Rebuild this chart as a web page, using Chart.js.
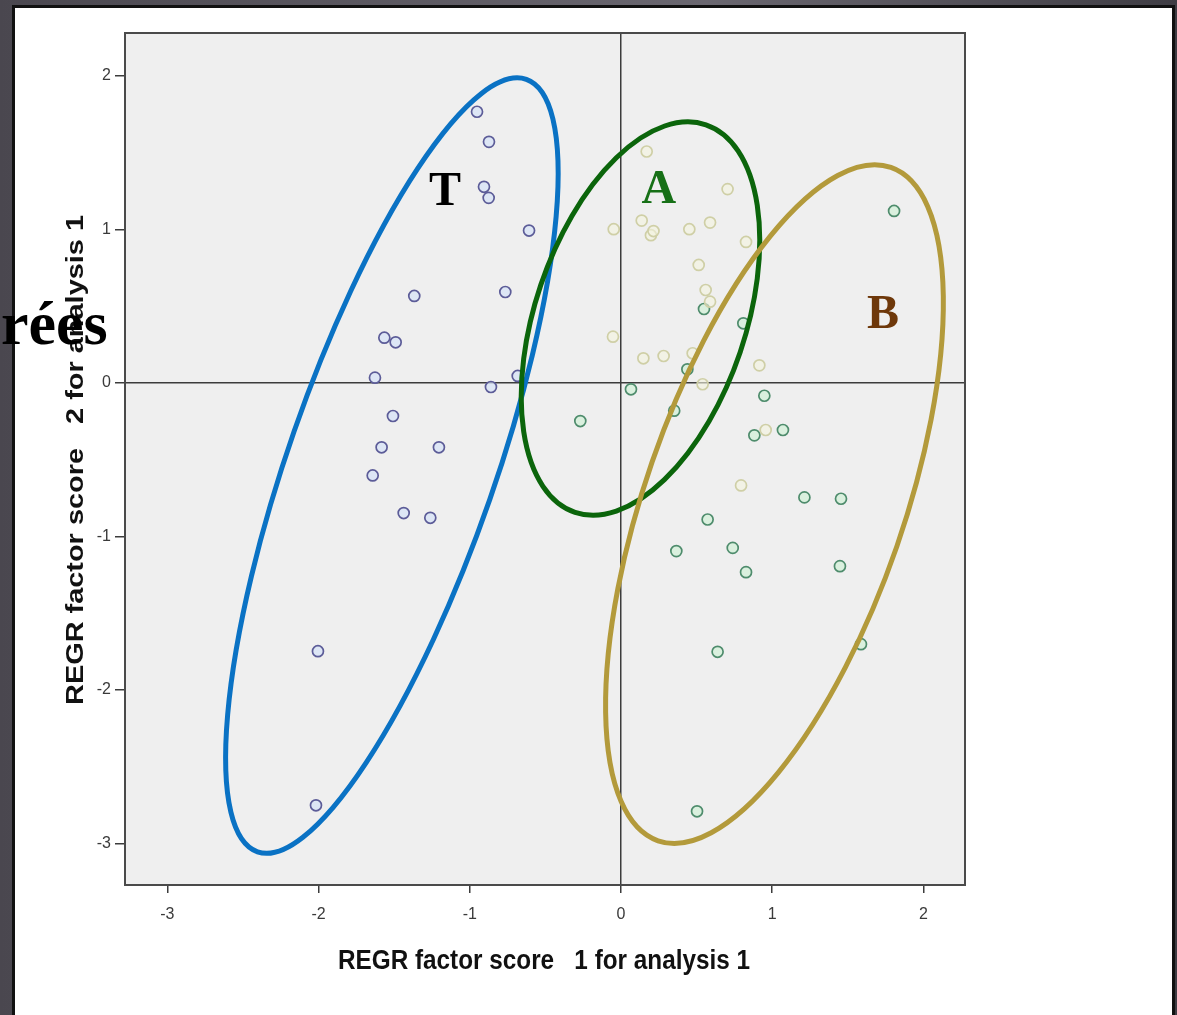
<!DOCTYPE html>
<html>
<head>
<meta charset="utf-8">
<script src="https://cdn.jsdelivr.net/npm/chart.js@4/dist/chart.umd.min.js"></script>
<style>
    html, body { margin: 0; padding: 0; }
    body {
        width: 1177px; height: 1015px; overflow: hidden; position: relative;
        background: linear-gradient(90deg, #4a474f 0%, #6a6770 60%, #3f3d44 100%);
    }
    #page {
        position: absolute; left: 12px; top: 5px; width: 1157px; height: 1030px;
        border: 3px solid #111; background: #fff;
    }
    #chartBox { position: absolute; left: 0; top: 0; width: 1177px; height: 1015px; z-index: 1; }
    #titleFrag {
        position: absolute; left: 1px; top: 292px; z-index: 2;
        font-family: 'Liberation Serif', 'Times New Roman', serif;
        font-weight: bold; font-size: 62px; color: #000; line-height: 1;
    }
</style>
</head>
<body>
<div id="page"></div>
<div id="chartBox"><canvas id="scatter" width="1177" height="1015"></canvas></div>
<div id="titleFrag">rées</div>

<script>
// tick labels
const xTicks = [-3, -2, -1, 0, 1, 2];
const yTicks = [2, 1, 0, -1, -2, -3];
const xTitle = 'REGR factor score   1 for analysis 1';
const yTitle = 'REGR factor score   2 for analysis 1';

// group T (blue circles)
const tX = [-0.952, -0.873, -0.906, -0.875, -0.608, -1.367, -0.765, -1.565, -1.490, -1.627,
    -0.860, -0.683, -1.508, -1.583, -1.204, -1.642, -1.437, -1.261, -2.004, -2.017];
const tY = [1.767, 1.571, 1.278, 1.206, 0.993, 0.567, 0.593, 0.295, 0.265, 0.035,
    -0.026, 0.046, -0.215, -0.419, -0.419, -0.602, -0.847, -0.878, -1.747, -2.751];

// group A (pale yellow circles)
const aX = [0.170, 0.705, 0.137, -0.048, 0.198, 0.215, 0.452, 0.589, 0.827, 0.514,
    0.560, 0.589, -0.053, 0.148, 0.282, 0.474, 0.915, 0.540, 0.957, 0.794];
const aY = [1.508, 1.263, 1.058, 1.002, 0.963, 0.990, 1.002, 1.045, 0.919, 0.769,
    0.606, 0.530, 0.302, 0.161, 0.176, 0.194, 0.115, -0.008, -0.306, -0.667];

// group B (green circles)
const bX = [0.549, 0.809, 0.439, 0.066, 0.948, -0.269, 0.352, 0.882, 1.071, 1.213,
    1.455, 0.573, 0.366, 0.739, 0.827, 1.448, 1.587, 0.639, 1.806, 0.503];
const bY = [0.482, 0.389, 0.089, -0.041, -0.083, -0.248, -0.180, -0.341, -0.306, -0.745,
    -0.754, -0.889, -1.095, -1.074, -1.232, -1.193, -1.701, -1.751, 1.121, -2.790];

// hand drawn group outlines (data units): centre, half major axis, half minor axis
const groupNames = ['T', 'A', 'B'];
const ringCenters = [[-1.515, -0.538], [0.129, 0.420], [1.015, -0.789]];
const ringMajor = [[0.889, 2.516], [0.433, 1.262], [0.770, 2.193]];
const ringMinor = [[0.647, -0.222], [0.659, -0.220], [0.809, -0.276]];
const ringColors = ['#0a72c4', '#0b650b', '#b39a3b'];

// group letters
const letterX = [-1.164, 0.250, 1.733];
const letterY = [1.240, 1.255, 0.440];
const letterColors = ['#000000', '#177017', '#6e380a'];

const toPoints = (xs, ys) => xs.map((x, i) => ({ x, y: ys[i] }));

// draws text stretched along its length to a given width
function stretchText(ctx, text, x, y, targetWidth, angle) {
    const w = ctx.measureText(text).width;
    ctx.save();
    ctx.translate(x, y);
    ctx.rotate(angle);
    ctx.scale(targetWidth / w, 1);
    ctx.fillText(text, 0, 0);
    ctx.restore();
}

const plotFrame = {
    id: 'plotFrame',
    beforeDraw(chart) {
        const { ctx, chartArea: a } = chart;
        ctx.save();
        ctx.fillStyle = '#efefef';
        ctx.fillRect(a.left, a.top, a.right - a.left, a.bottom - a.top);
        ctx.restore();
    },
    afterDatasetsDraw(chart) {
        const { ctx, chartArea: a, scales } = chart;
        ctx.save();
        ctx.strokeStyle = '#4a4a4a';
        ctx.lineWidth = 2;
        ctx.strokeRect(a.left, a.top, a.right - a.left, a.bottom - a.top);

        // group outlines
        ringCenters.forEach((c, i) => {
            const cx = scales.x.getPixelForValue(c[0]);
            const cy = scales.y.getPixelForValue(c[1]);
            const ux = scales.x.getPixelForValue(c[0] + ringMajor[i][0]) - cx;
            const uy = scales.y.getPixelForValue(c[1] + ringMajor[i][1]) - cy;
            const vx = scales.x.getPixelForValue(c[0] + ringMinor[i][0]) - cx;
            const vy = scales.y.getPixelForValue(c[1] + ringMinor[i][1]) - cy;
            ctx.beginPath();
            ctx.ellipse(cx, cy, Math.hypot(ux, uy), Math.hypot(vx, vy), Math.atan2(uy, ux), 0, Math.PI * 2);
            ctx.strokeStyle = ringColors[i];
            ctx.lineWidth = 5;
            ctx.stroke();
        });

        // group letters
        ctx.font = 'bold 48px "Liberation Serif", "Times New Roman", serif';
        ctx.textAlign = 'center';
        ctx.textBaseline = 'middle';
        groupNames.forEach((name, i) => {
            ctx.fillStyle = letterColors[i];
            ctx.fillText(name, scales.x.getPixelForValue(letterX[i]), scales.y.getPixelForValue(letterY[i]));
        });

        // axis titles (SPSS output is stretched, so draw them by hand)
        ctx.fillStyle = '#111';
        ctx.font = 'bold 27px Arial, "Liberation Sans", sans-serif';
        stretchText(ctx, xTitle, (a.left + a.right) / 2 - 1, 962, 412, 0);
        ctx.font = 'bold 24px Arial, "Liberation Sans", sans-serif';
        stretchText(ctx, yTitle, 76, (a.top + a.bottom) / 2 + 1, 490, -Math.PI / 2);
        ctx.restore();
    }
};

const zeroGrid = ctx => (ctx.tick && ctx.tick.value === 0) ? '#3c3c3c' : 'rgba(0,0,0,0)';

const tickFont = { family: 'Arial, "Liberation Sans", sans-serif', size: 16 };

new Chart(document.getElementById('scatter'), {
    type: 'scatter',
    data: {
        datasets: [{
            label: 'T',
            data: toPoints(tX, tY),
            borderColor: '#5c5c98',
            backgroundColor: 'rgba(214,226,248,0.7)'
        }, {
            label: 'A',
            data: toPoints(aX, aY),
            borderColor: '#cfcfa6',
            backgroundColor: 'rgba(244,244,222,0.6)'
        }, {
            label: 'B',
            data: toPoints(bX, bY),
            borderColor: '#4e8c6c',
            backgroundColor: 'rgba(212,240,218,0.8)'
        }]
    },
    options: {
        responsive: false,
        animation: false,
        layout: { padding: { left: 60, top: 33, right: 212, bottom: 20 } },
        elements: { point: { radius: 5.5, borderWidth: 1.7, hoverRadius: 5.5 } },
        plugins: { legend: { display: false }, tooltip: { enabled: false } },
        scales: {
            x: {
                type: 'linear',
                min: -3.28,
                max: 2.275,
                afterFit: scale => { scale.height = 110; },
                afterBuildTicks: scale => { scale.ticks = xTicks.map(v => ({ value: v })); },
                ticks: { color: '#3a3a3a', font: tickFont, padding: 12, includeBounds: false, maxRotation: 0 },
                grid: { color: zeroGrid, lineWidth: 1.5, tickColor: '#3c3c3c', tickLength: 8, drawTicks: true },
                border: { display: false },
                title: { display: false }
            },
            y: {
                type: 'linear',
                min: -3.27,
                max: 2.28,
                afterFit: scale => { scale.width = 65; },
                afterBuildTicks: scale => { scale.ticks = yTicks.map(v => ({ value: v })); },
                ticks: { color: '#3a3a3a', font: tickFont, padding: 4, includeBounds: false },
                grid: { color: zeroGrid, lineWidth: 1.5, tickColor: '#3c3c3c', tickLength: 10, drawTicks: true },
                border: { display: false },
                title: { display: false }
            }
        }
    },
    plugins: [plotFrame]
});
</script>
</body>
</html>
